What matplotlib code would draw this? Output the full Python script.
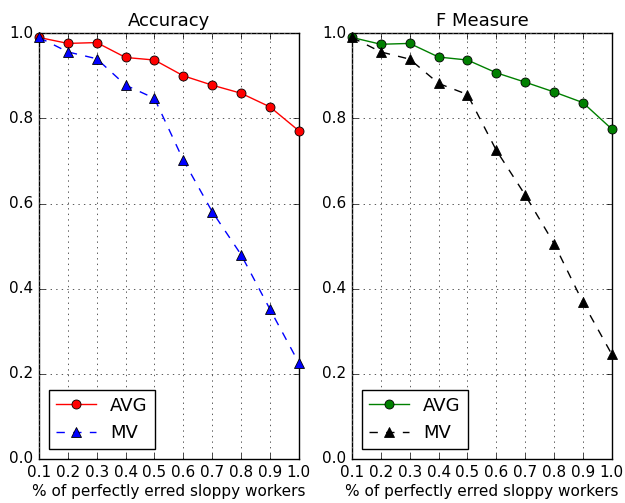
import matplotlib
matplotlib.use("Agg")
import matplotlib.pyplot as plt

plt.style.use("classic")
plt.rcParams["font.family"] = ["DejaVu Sans"]

x = [0.1, 0.2, 0.3, 0.4, 0.5, 0.6, 0.7, 0.8, 0.9, 1.0]
acc_avg = [0.990, 0.976, 0.978, 0.943, 0.937, 0.900, 0.878, 0.859, 0.827, 0.771]
acc_mv = [0.990, 0.956, 0.940, 0.878, 0.847, 0.702, 0.581, 0.480, 0.352, 0.226]
f_avg = [0.990, 0.974, 0.976, 0.944, 0.937, 0.907, 0.885, 0.862, 0.837, 0.775]
f_mv = [0.990, 0.956, 0.939, 0.882, 0.856, 0.725, 0.620, 0.506, 0.368, 0.246]
titles = ["Accuracy", "F Measure"]
xlabel = "% of perfectly erred sloppy workers"
xticks = [0.1, 0.2, 0.3, 0.4, 0.5, 0.6, 0.7, 0.8, 0.9, 1.0]
yticks = [0.0, 0.2, 0.4, 0.6, 0.8, 1.0]

fig = plt.figure(figsize=(6.25, 5.03), dpi=100, facecolor="white")
ax1 = fig.add_axes([0.0624, 0.0875, 0.4156, 0.8465])
ax2 = fig.add_axes([0.5632, 0.0875, 0.4156, 0.8465])

specs = [
    (ax1, acc_avg, acc_mv, "r", "b"),
    (ax2, f_avg, f_mv, "g", "k"),
]
for (ax, avg, mv, c1, c2), title in zip(specs, titles):
    ax.plot(x, avg, color=c1, linestyle="-", marker="o", markersize=6.5,
            markerfacecolor=c1, markeredgecolor="k", markeredgewidth=0.6,
            linewidth=1, label="AVG", clip_on=False, zorder=3)
    ax.plot(x, mv, color=c2, linestyle="--", marker="^", markersize=6.5,
            markerfacecolor=c2, markeredgecolor="k", markeredgewidth=0.6,
            linewidth=1, label="MV", clip_on=False, zorder=3)
    ax.set_xlim(0.1, 1.0)
    ax.set_ylim(0.0, 1.0)
    ax.set_xticks(xticks)
    ax.set_yticks(yticks)
    ax.set_xticklabels([f"{v:.1f}" for v in xticks])
    ax.set_yticklabels([f"{v:.1f}" for v in yticks])
    ax.tick_params(labelsize=11, direction="in", length=4, top=True, right=True, pad=4)
    ax.grid(True, linestyle=":", color="0.35", linewidth=0.7)
    ax.set_title(title, fontsize=13, pad=5)
    ax.set_xlabel(xlabel, fontsize=11, labelpad=3)
    leg = ax.legend(loc="lower left", numpoints=1, fontsize=13, handlelength=2.2,
                    borderaxespad=0.55, fancybox=False, framealpha=1)
    leg.get_frame().set_edgecolor("k")

fig.savefig("out.png", dpi=100, facecolor="white")
